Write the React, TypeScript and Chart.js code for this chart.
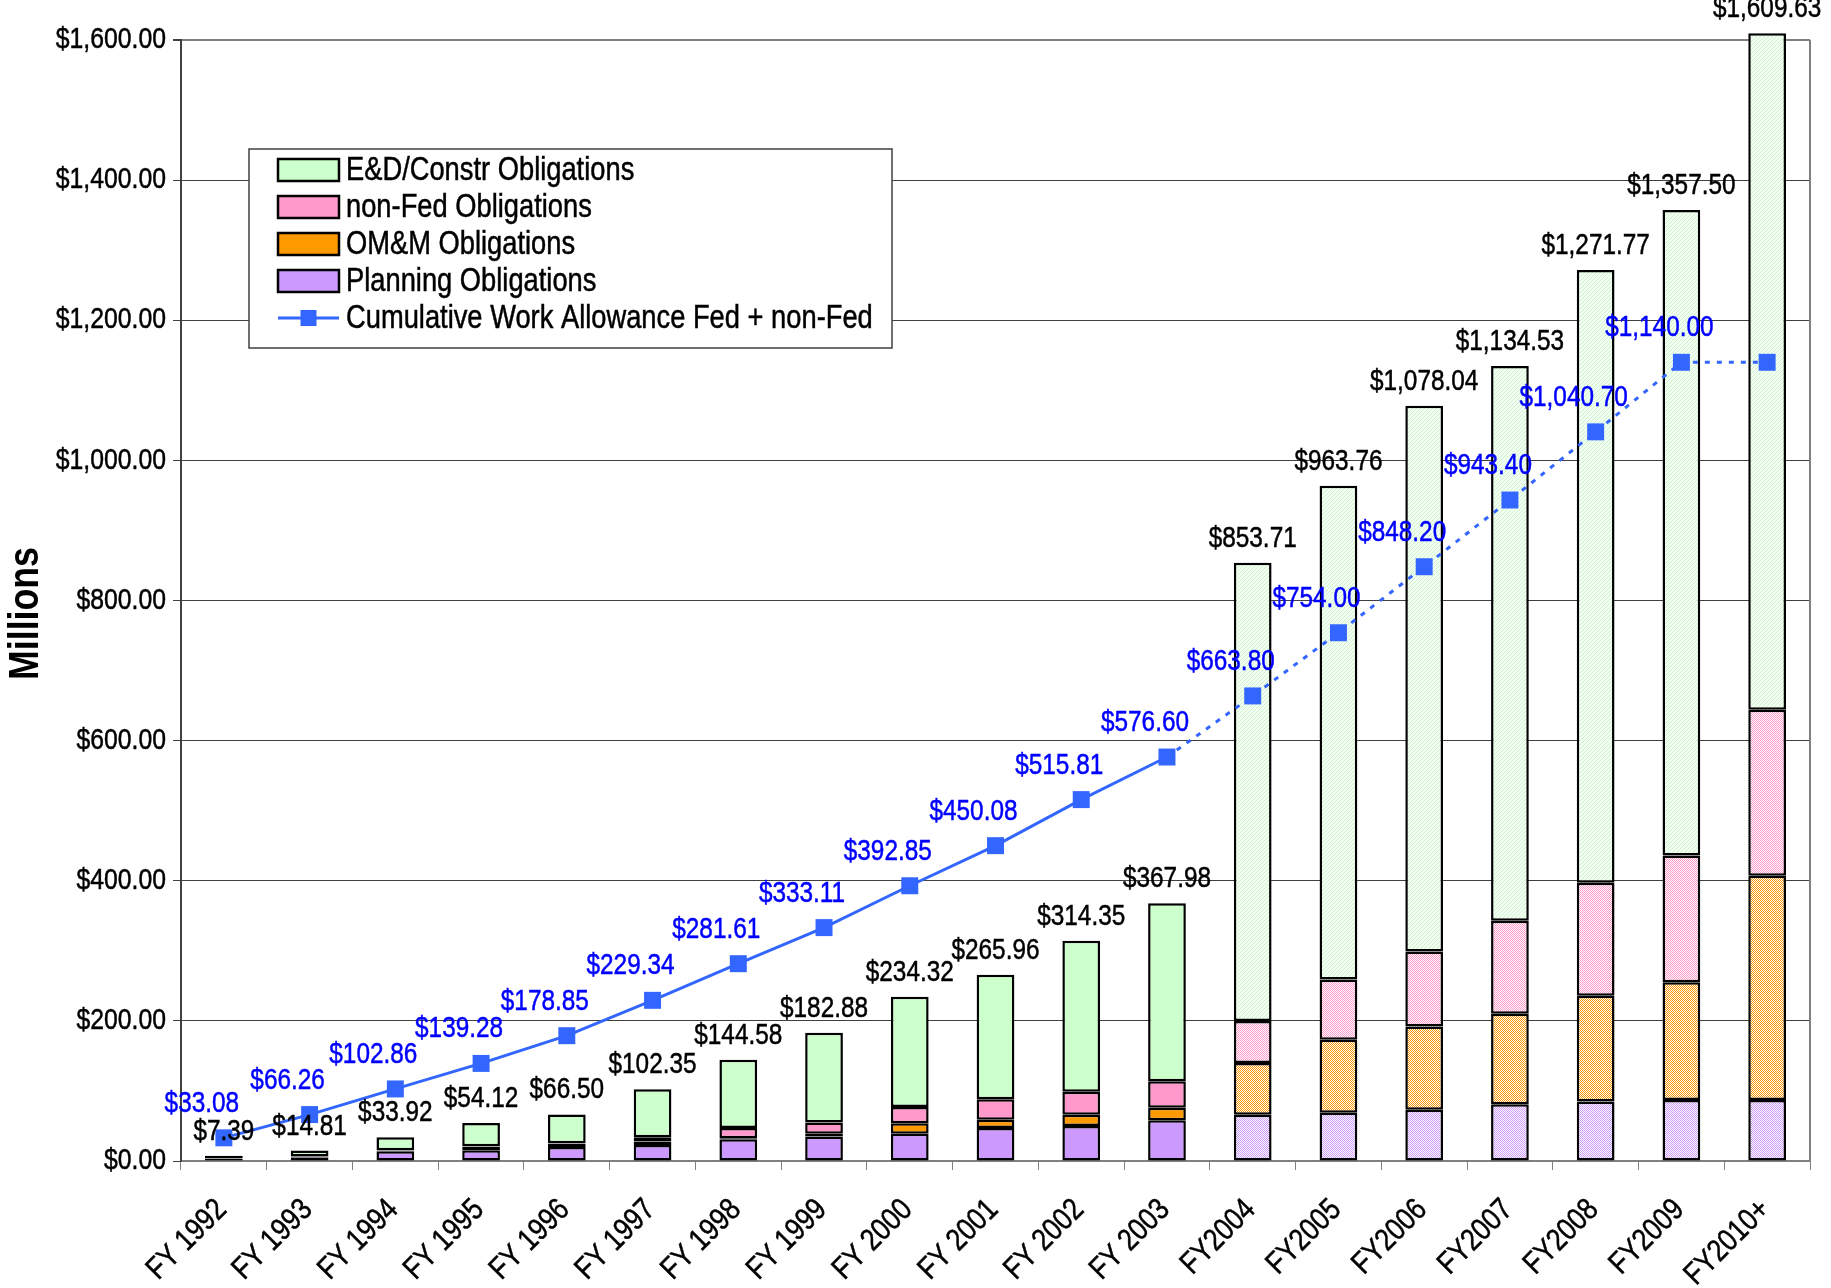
import { useEffect, useRef } from 'react';
import { Chart, registerables } from 'chart.js';

Chart.register(...registerables);

// ---------------- DATA ----------------
const CATEGORIES = [
  'FY 1992', 'FY 1993', 'FY 1994', 'FY 1995', 'FY 1996', 'FY 1997', 'FY 1998',
  'FY 1999', 'FY 2000', 'FY 2001', 'FY 2002', 'FY 2003', 'FY2004', 'FY2005',
  'FY2006', 'FY2007', 'FY2008', 'FY2009', 'FY2010+',
];

const PLANNING = [3.0, 5.0, 14.0, 15.5, 20.0, 23.0, 31.0, 35.0, 39.0, 47.0, 50.0, 58.0, 66.0, 69.0, 73.0, 81.0, 85.0, 87.0, 87.0];
const OMM = [0.5, 0.8, 1.0, 5.0, 5.0, 5.0, 1.5, 4.0, 15.0, 12.0, 16.0, 18.0, 74.0, 104.0, 119.0, 129.0, 151.0, 168.0, 320.0];
const NON_FED = [0.5, 0.5, 0.3, 0.5, 0.5, 6.0, 14.5, 16.0, 23.0, 29.0, 33.0, 38.0, 60.0, 86.0, 107.0, 133.0, 161.0, 181.0, 237.0];
const ED_CONSTR = [3.39, 8.51, 18.62, 33.12, 41.0, 68.35, 97.58, 127.88, 157.32, 177.96, 215.35, 253.98, 653.71, 704.76, 779.04, 791.53, 874.77, 921.5, 965.63];

const CUMULATIVE = [33.08, 66.26, 102.86, 139.28, 178.85, 229.34, 281.61, 333.11, 392.85, 450.08, 515.81, 576.6, 663.8, 754.0, 848.2, 943.4, 1040.7, 1140.0, 1140.0];

const Y_MIN = 0;
const Y_MAX = 1600;
const Y_STEP = 200;

// index from which bars are hatched (projections) and the line is dotted
const HATCH_FROM = 12;
const DASH_FROM = 11;
const CUM_LABEL_COUNT = 18;

// ---------------- STYLE ----------------
const FONT = '"Liberation Sans", Arial, sans-serif';
const SX = 0.84; // condensed text
const C_ED = '#CCFFCC';
const C_NONFED = '#FF99CC';
const C_OMM = '#FF9900';
const C_PLAN = '#CC99FF';
const C_LINE = '#3366FF';

const money = (v: number) =>
  '$' + v.toLocaleString('en-US', { minimumFractionDigits: 2, maximumFractionDigits: 2 });

function makePattern(kind: string, color: string, base = '#ffffff'): CanvasPattern | string {
  const c = document.createElement('canvas');
  c.width = 4;
  c.height = 4;
  const g = c.getContext('2d');
  if (!g) return color;
  g.fillStyle = base;
  g.fillRect(0, 0, 4, 4);
  g.fillStyle = color;
  for (let yy = 0; yy < 4; yy++) {
    for (let xx = 0; xx < 4; xx++) {
      let on = false;
      if (kind === 'checker') on = (xx + yy) % 2 === 0;
      if (kind === 'diag') on = (xx + yy) % 4 === 0;
      if (on) g.fillRect(xx, yy, 1, 1);
    }
  }
  return g.createPattern(c, 'repeat') || color;
}

function drawText(
  ctx: CanvasRenderingContext2D,
  text: string,
  x: number,
  y: number,
  font: string,
  color: string,
  align: CanvasTextAlign,
  baseline: CanvasTextBaseline,
  rot = 0,
  stroke = 0.5,
) {
  ctx.save();
  ctx.translate(x, y);
  if (rot) ctx.rotate(rot);
  ctx.scale(SX, 1);
  ctx.font = font;
  ctx.fillStyle = color;
  ctx.textAlign = align;
  ctx.textBaseline = baseline;
  ctx.fillText(text, 0, 0);
  if (stroke > 0) {
    ctx.strokeStyle = color;
    ctx.lineWidth = stroke;
    ctx.strokeText(text, 0, 0);
  }
  ctx.restore();
}

export default function App() {
  const ref = useRef<HTMLCanvasElement>(null);

  useEffect(() => {
    if (!ref.current) return;

    const patED = makePattern('diag', '#ccf4cc', '#f2fff2');
    const patNF = makePattern('checker', C_NONFED);
    const patOM = makePattern('checker', C_OMM);
    const patPL = makePattern('checker', C_PLAN);

    const fills = (solid: string, pat: CanvasPattern | string) =>
      CATEGORIES.map((_, i) => (i >= HATCH_FROM ? pat : solid));

    const barCommon = {
      type: 'bar' as const,
      borderColor: '#000000',
      borderWidth: 2.5,
      borderSkipped: false,
      barPercentage: 0.44,
      categoryPercentage: 1,
      order: 1,
      stack: 'obl',
      clip: false as any,
    };

    const overlay = {
      id: 'overlay',
      afterDatasetsDraw(chart: any) {
        const { ctx, chartArea, scales } = chart;
        const x = scales.x;
        const y = scales.y;
        ctx.save();

        // right border of plot
        ctx.strokeStyle = '#808080';
        ctx.lineWidth = 2;
        ctx.beginPath();
        ctx.moveTo(chartArea.right, chartArea.top);
        ctx.lineTo(chartArea.right, chartArea.bottom);
        ctx.stroke();

        // y tick labels
        const yFont = `29.5px ${FONT}`;
        y.ticks.forEach((t: any, i: number) => {
          drawText(ctx, money(Number(t.value)), chartArea.left - 15, y.getPixelForTick(i), yFont, '#000', 'right', 'middle');
        });

        // x tick labels (rotated 45°)
        const xFont = `31px ${FONT}`;
        x.ticks.forEach((t: any, i: number) => {
          const lbl = String(x.getLabelForValue(t.value));
          drawText(ctx, lbl, x.getPixelForTick(i) - 2, chartArea.bottom + 44, xFont, '#000', 'right', 'middle', -Math.PI / 4);
        });

        // y axis title
        drawText(ctx, 'Millions', 26, (chartArea.top + chartArea.bottom) / 2 + 13, `bold 42.5px ${FONT}`, '#000', 'center', 'middle', -Math.PI / 2, 0);

        // totals above bars
        const lblFont = `29px ${FONT}`;
        CATEGORIES.forEach((_, i) => {
          const total = PLANNING[i] + OMM[i] + NON_FED[i] + ED_CONSTR[i];
          drawText(ctx, money(total), x.getPixelForValue(i), y.getPixelForValue(total) - 24, lblFont, '#000', 'center', 'middle');
        });

        // cumulative labels
        CUMULATIVE.forEach((v, i) => {
          if (i >= CUM_LABEL_COUNT) return;
          drawText(ctx, money(v), x.getPixelForValue(i) - 22, y.getPixelForValue(v) - 34, lblFont, '#0000FF', 'center', 'middle');
        });

        // legend box
        const lx = 249, ly = 149, lw = 643, lh = 199;
        ctx.fillStyle = '#ffffff';
        ctx.fillRect(lx, ly, lw, lh);
        ctx.strokeStyle = '#404040';
        ctx.lineWidth = 1.5;
        ctx.strokeRect(lx, ly, lw, lh);

        const items = [
          { label: 'E&D/Constr Obligations', color: C_ED, line: false },
          { label: 'non-Fed Obligations', color: C_NONFED, line: false },
          { label: 'OM&M Obligations', color: C_OMM, line: false },
          { label: 'Planning Obligations', color: C_PLAN, line: false },
          { label: 'Cumulative Work Allowance Fed + non-Fed', color: C_LINE, line: true },
        ];
        const legFont = `32.5px ${FONT}`;
        items.forEach((it, k) => {
          const ry = 170 + k * 37;
          if (it.line) {
            ctx.strokeStyle = C_LINE;
            ctx.lineWidth = 3;
            ctx.beginPath();
            ctx.moveTo(278, ry);
            ctx.lineTo(339, ry);
            ctx.stroke();
            ctx.fillStyle = C_LINE;
            ctx.fillRect(308.5 - 8, ry - 8, 16, 16);
          } else {
            ctx.fillStyle = it.color;
            ctx.fillRect(278, ry - 11, 61, 22);
            ctx.strokeStyle = '#000000';
            ctx.lineWidth = 2.5;
            ctx.strokeRect(278, ry - 11, 61, 22);
          }
          drawText(ctx, it.label, 346, ry + 1, legFont, '#000', 'left', 'middle');
        });

        ctx.restore();
      },
    };

    const chart = new Chart(ref.current, {
      type: 'bar',
      data: {
        labels: CATEGORIES,
        datasets: [
          {
            type: 'line',
            label: 'Cumulative Work Allowance Fed + non-Fed',
            data: CUMULATIVE,
            borderColor: C_LINE,
            backgroundColor: C_LINE,
            borderWidth: 3,
            pointStyle: 'rect',
            pointRadius: 12,
            pointBorderWidth: 0,
            pointBackgroundColor: C_LINE,
            tension: 0,
            order: 0,
            stack: 'line',
            segment: {
              borderDash: (c: any) => (c.p0DataIndex >= DASH_FROM ? [5, 7] : undefined),
            },
          } as any,
          { ...barCommon, label: 'Planning Obligations', data: PLANNING, backgroundColor: fills(C_PLAN, patPL) } as any,
          { ...barCommon, label: 'OM&M Obligations', data: OMM, backgroundColor: fills(C_OMM, patOM) } as any,
          { ...barCommon, label: 'non-Fed Obligations', data: NON_FED, backgroundColor: fills(C_NONFED, patNF) } as any,
          { ...barCommon, label: 'E&D/Constr Obligations', data: ED_CONSTR, backgroundColor: fills(C_ED, patED) } as any,
        ],
      },
      options: {
        responsive: false,
        animation: false,
        devicePixelRatio: 1,
        layout: { padding: { top: 40, right: 21, bottom: 0, left: 0 } },
        plugins: {
          legend: { display: false },
          tooltip: { enabled: false },
          title: { display: false },
        },
        scales: {
          x: {
            stacked: true,
            offset: true,
            grid: {
              display: true,
              drawOnChartArea: false,
              drawTicks: true,
              tickLength: 9,
              offset: true,
              color: '#808080',
              tickColor: '#808080',
            },
            border: { display: true, color: '#808080', width: 2 },
            ticks: {
              autoSkip: false,
              minRotation: 45,
              maxRotation: 45,
              padding: 28,
              color: 'rgba(0,0,0,0)',
              font: { family: FONT, size: 26 },
            },
            afterFit: (s: any) => {
              s.height = 127;
            },
          },
          y: {
            stacked: true,
            min: Y_MIN,
            max: Y_MAX,
            grid: {
              color: (c: any) => (c.tick && c.tick.value === Y_MAX ? '#808080' : '#404040'),
              lineWidth: (c: any) => (c.tick && c.tick.value === Y_MAX ? 2 : 1),
              tickLength: 8,
              drawTicks: true,
              tickColor: '#404040',
            },
            border: { display: true, color: '#404040', width: 2 },
            ticks: {
              stepSize: Y_STEP,
              padding: 7,
              color: 'rgba(0,0,0,0)',
              font: { family: FONT, size: 24 },
              callback: (v: any) => money(Number(v)),
            },
            title: { display: false },
            afterFit: (s: any) => {
              s.width = 181;
            },
          },
        },
      },
      plugins: [overlay],
    });

    return () => chart.destroy();
  }, []);

  return (
    <div style={{ position: 'absolute', left: 0, top: 0, width: 1831, height: 1288, background: '#ffffff' }}>
      <canvas ref={ref} width={1831} height={1288} style={{ display: 'block', width: 1831, height: 1288 }} />
    </div>
  );
}
